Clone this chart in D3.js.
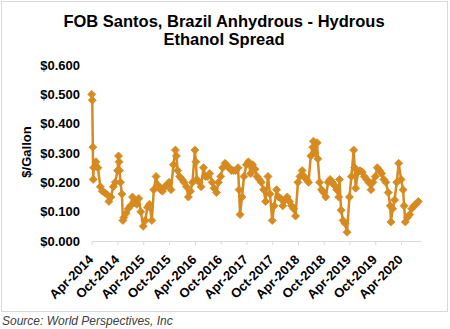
<!DOCTYPE html>
<html>
<head>
<meta charset="utf-8">
<script src="https://cdn.jsdelivr.net/npm/d3@7"></script>
<style>
  html, body { margin: 0; padding: 0; background: #fff; }
  svg { display: block; font-family: "Liberation Sans", Arial, sans-serif; }
</style>
</head>
<body>
<svg id="chart" width="450" height="329"></svg>
<script>
const titleLines = ["FOB Santos, Brazil Anhydrous - Hydrous", "Ethanol Spread"];
const yTitle = "$/Gallon";
const source = "Source: World Perspectives, Inc";

const yTicks = [0, 0.1, 0.2, 0.3, 0.4, 0.5, 0.6];
const xTickDates = ["2014-04-01","2014-10-01","2015-04-01","2015-10-01","2016-04-01","2016-10-01",
  "2017-04-01","2017-10-01","2018-04-01","2018-10-01","2019-04-01","2019-10-01","2020-04-01"];
const xTickLabels = ["Apr-2014","Oct-2014","Apr-2015","Oct-2015","Apr-2016","Oct-2016",
  "Apr-2017","Oct-2017","Apr-2018","Oct-2018","Apr-2019","Oct-2019","Apr-2020"];

const dates = [
  "2014-04-01","2014-04-05","2014-04-09","2014-04-12","2014-04-15","2014-05-01","2014-05-15","2014-06-01","2014-06-15",
  "2014-07-01","2014-07-15","2014-08-01","2014-08-15","2014-09-01","2014-09-15","2014-10-01","2014-10-08","2014-10-12",
  "2014-10-15","2014-10-22","2014-11-01","2014-11-08","2014-11-15","2014-12-01","2014-12-15",
  "2015-01-01","2015-01-15","2015-02-01","2015-02-15","2015-03-01","2015-03-15","2015-04-01","2015-04-15",
  "2015-05-01","2015-05-15","2015-06-01","2015-06-15","2015-07-01","2015-07-15","2015-08-01","2015-08-15",
  "2015-09-01","2015-09-15","2015-10-01","2015-10-15","2015-11-01","2015-11-15","2015-11-22","2015-12-01","2015-12-15",
  "2016-01-01","2016-01-15","2016-02-01","2016-02-15","2016-03-01","2016-03-15","2016-04-01","2016-04-08","2016-04-15",
  "2016-05-01","2016-05-15","2016-06-01","2016-06-15","2016-07-01","2016-07-15","2016-08-01","2016-08-15",
  "2016-09-01","2016-09-15","2016-10-01","2016-10-15","2016-11-01","2016-11-15","2016-12-01","2016-12-15",
  "2017-01-01","2017-01-15","2017-02-01","2017-02-08","2017-02-15","2017-03-01","2017-03-15","2017-04-01","2017-04-15",
  "2017-05-01","2017-05-15","2017-06-01","2017-06-15","2017-07-01","2017-07-15","2017-08-01","2017-08-15",
  "2017-09-01","2017-09-15","2017-10-01","2017-10-15","2017-11-01","2017-11-15","2017-12-01","2017-12-15",
  "2018-01-01","2018-01-15","2018-02-01","2018-02-15","2018-03-01","2018-03-15","2018-04-01","2018-04-15",
  "2018-05-01","2018-05-15","2018-06-01","2018-06-15","2018-07-01","2018-07-15","2018-07-20","2018-08-01","2018-08-15",
  "2018-08-20","2018-09-01","2018-09-15","2018-10-01","2018-10-15","2018-11-01","2018-11-15","2018-12-01","2018-12-15",
  "2019-01-01","2019-01-15","2019-01-20","2019-02-01","2019-02-15","2019-03-01","2019-03-15","2019-04-01","2019-04-15",
  "2019-05-01","2019-05-08","2019-05-15","2019-06-01","2019-06-15","2019-07-01","2019-07-15","2019-08-01","2019-08-15",
  "2019-09-01","2019-09-15","2019-10-01","2019-10-15","2019-11-01","2019-11-15","2019-12-01","2019-12-15",
  "2020-01-01","2020-01-15","2020-01-20","2020-02-01","2020-02-15","2020-03-01","2020-03-15","2020-04-01","2020-04-15",
  "2020-04-22","2020-05-01","2020-05-15","2020-06-01","2020-06-15","2020-07-01","2020-07-15","2020-08-01"
];
const spread = [
  0.500,0.480,0.320,0.210,0.250,0.270,0.250,0.185,0.170,
  0.165,0.160,0.135,0.150,0.185,0.200,0.240,0.290,0.270,
  0.240,0.200,0.160,0.070,0.080,0.095,0.110,
  0.120,0.150,0.130,0.125,0.145,0.100,0.050,0.070,
  0.115,0.125,0.070,0.175,0.220,0.190,0.175,0.170,
  0.185,0.190,0.200,0.175,0.260,0.310,0.290,0.240,0.220,
  0.210,0.200,0.185,0.150,0.170,0.200,0.310,0.270,0.210,
  0.200,0.185,0.250,0.220,0.220,0.230,0.200,0.180,
  0.165,0.200,0.220,0.250,0.265,0.255,0.250,0.240,
  0.240,0.240,0.250,0.175,0.090,0.150,0.220,0.260,0.270,
  0.230,0.260,0.245,0.220,0.210,0.200,0.175,0.135,
  0.220,0.160,0.070,0.120,0.175,0.150,0.145,0.120,
  0.140,0.150,0.135,0.120,0.110,0.085,0.200,0.220,
  0.240,0.220,0.210,0.200,0.290,0.320,0.340,0.300,0.335,
  0.280,0.200,0.175,0.165,0.150,0.200,0.210,0.200,0.190,
  0.175,0.150,0.210,0.105,0.070,0.060,0.030,0.150,0.220,
  0.310,0.250,0.180,0.235,0.240,0.235,0.220,0.210,0.200,
  0.175,0.200,0.220,0.250,0.240,0.230,0.210,0.200,
  0.165,0.120,0.065,0.110,0.140,0.200,0.265,0.210,0.175,
  0.120,0.065,0.080,0.090,0.110,0.120,0.125,0.135
];

const color = "#D68A1F";
const parse = d3.utcParse("%Y-%m-%d");
const data = dates.map((d, i) => ({ date: parse(d), value: spread[i] }));

const svg = d3.select("#chart");

// outer border
svg.append("rect").attr("x", 1.5).attr("y", 1.5).attr("width", 446).attr("height", 310)
  .attr("fill", "#fff").attr("stroke", "#d9d9d9").attr("stroke-width", 1);

// title
const title = svg.append("text").attr("text-anchor", "middle").attr("font-weight", "bold")
  .attr("font-size", 16.5).attr("fill", "#000");
titleLines.forEach((t, i) => {
  title.append("tspan").attr("x", 224).attr("y", 27 + i * 18).text(t);
});

const x = d3.scaleUtc()
  .domain([parse("2014-04-01"), parse("2020-08-20")])
  .range([91.7, 421]);
const y = d3.scaleLinear().domain([0, 0.6]).range([241, 65]);

// x axis
const xAxis = d3.axisBottom(x)
  .tickValues(xTickDates.map(parse))
  .tickFormat((d, i) => xTickLabels[i])
  .tickSize(4).tickSizeOuter(0);
const gx = svg.append("g").attr("transform", "translate(0,241)").call(xAxis);
gx.select(".domain").attr("stroke", "#d9d9d9");
gx.selectAll(".tick line").attr("stroke", "#d9d9d9");
gx.selectAll(".tick text")
  .attr("font-size", 13).attr("font-weight", "bold").attr("fill", "#000")
  .attr("font-family", "'Liberation Sans', Arial, sans-serif")
  .attr("text-anchor", "end")
  .attr("x", 0).attr("y", 0).attr("dy", 0)
  .attr("transform", "translate(2,19.5) rotate(-45)");

// y axis
const yAxis = d3.axisLeft(y).tickValues(yTicks)
  .tickFormat(d => "$" + d3.format(".3f")(d)).tickSize(0);
const gy = svg.append("g").attr("transform", "translate(88,0)").call(yAxis);
gy.select(".domain").remove();
gy.selectAll(".tick text")
  .attr("font-size", 13).attr("font-weight", "bold").attr("fill", "#000")
  .attr("font-family", "'Liberation Sans', Arial, sans-serif")
  .attr("x", -8);

svg.append("text").attr("transform", "translate(31,152) rotate(-90)")
  .attr("text-anchor", "middle").attr("font-weight", "bold").attr("font-size", 13)
  .attr("fill", "#000").text(yTitle);

// line
const line = d3.line().x(d => x(d.date)).y(d => y(d.value));
svg.append("path").datum(data).attr("d", line)
  .attr("fill", "none").attr("stroke", color).attr("stroke-width", 2.5)
  .attr("stroke-linejoin", "round");

// diamond markers
const r = 4;
svg.append("g").selectAll("path.m").data(data).join("path").attr("class", "m")
  .attr("d", `M0,${-r}L${r},0L0,${r}L${-r},0Z`)
  .attr("transform", d => `translate(${x(d.date)},${y(d.value)})`)
  .attr("fill", color).attr("stroke", color).attr("stroke-width", 0.8);

// source
svg.append("text").attr("x", 2).attr("y", 325).attr("font-size", 12)
  .attr("font-style", "italic").attr("fill", "#404040").text(source);
</script>
</body>
</html>
